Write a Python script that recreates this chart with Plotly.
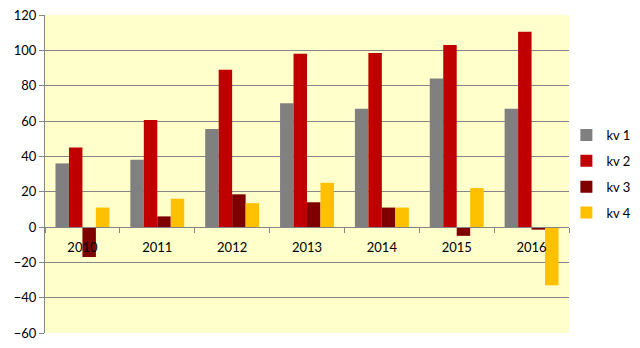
import plotly.graph_objects as go

years = ["2010", "2011", "2012", "2013", "2014", "2015", "2016"]
kv1 = [36, 38, 55.5, 70, 67, 84, 67]
kv2 = [45, 60.5, 89, 98, 98.5, 103, 110.5]
kv3 = [-17, 6, 18.5, 14, 11, -5, -1.5]
kv4 = [11, 16, 13.5, 25, 11, 22, -33]

series = [("kv 1", kv1, "#808080"), ("kv 2", kv2, "#C00000"),
          ("kv 3", kv3, "#7F0000"), ("kv 4", kv4, "#FFC000")]

y_min, y_max = -60, 120

fig = go.Figure()
for name, vals, color in series:
    fig.add_trace(go.Bar(x=years, y=vals, name=name, marker_color=color,
                         marker_line_width=0, legendgroup=name))

font = dict(family="Lato, Carlito, 'Open Sans', sans-serif", size=13, color="#000000")

fig.update_layout(
    width=640, height=348,
    margin=dict(l=45, r=71, t=15, b=15, autoexpand=False),
    paper_bgcolor="white",
    plot_bgcolor="#FFFFCC",
    barmode="group",
    bargap=0.28,
    bargroupgap=0,
    font=font,
    showlegend=True,
    legend=dict(x=0.995, y=0.67, xanchor="left", yanchor="top",
                font=dict(size=13), tracegroupgap=6, traceorder="grouped",
                itemwidth=30, bgcolor="rgba(0,0,0,0)"),
    xaxis=dict(
        anchor="free",
        position=(0 - y_min) / (y_max - y_min),
        showline=True, linecolor="#868686", linewidth=1,
        ticks="outside", tickson="boundaries", ticklen=5, tickcolor="#868686",
        ticklabelstandoff=8,
        showgrid=False, zeroline=False, tickfont=font,
    ),
    yaxis=dict(
        range=[y_min, y_max], dtick=20, tick0=0,
        showline=True, linecolor="#868686", linewidth=1,
        ticks="outside", ticklen=5, tickcolor="#868686",
        showgrid=True, gridcolor="#868686", gridwidth=1,
        zeroline=False, tickfont=font,
    ),
)

fig.write_html("out.html")
